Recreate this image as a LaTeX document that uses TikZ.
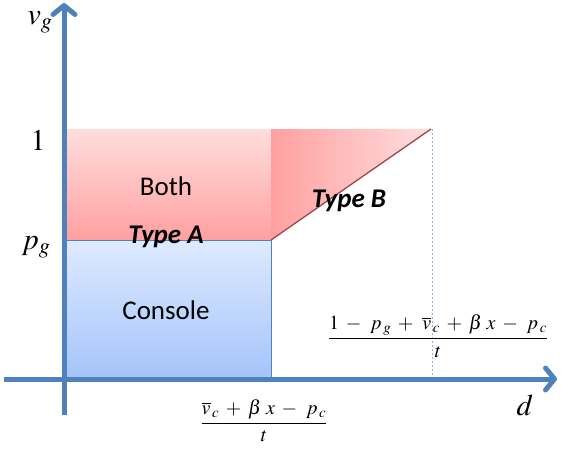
\documentclass[tikz,border=0pt]{standalone}
\usepackage{amsmath}
\usepackage{mathptmx}
\usepackage[no-math]{fontspec}
\setmainfont{Carlito}
\usetikzlibrary{arrows.meta}
\definecolor{axisblue}{RGB}{79,129,189}
\definecolor{redtop}{RGB}{255,222,222}
\definecolor{redbot}{RGB}{255,160,160}
\definecolor{bluetop}{RGB}{222,234,255}
\definecolor{bluebot}{RGB}{165,196,250}
\definecolor{diagred}{RGB}{160,70,70}
\tikzset{
  axisline/.style={draw=axisblue, line width=5pt, -{Straight Barb[length=9pt,width=22pt,round]}},
  regionlabel/.style={font=\fontsize{27}{30}\selectfont, inner sep=0pt},
  typelabel/.style={font=\fontsize{27}{30}\selectfont\bfseries\itshape, inner sep=0pt},
  axislabel/.style={font=\fontsize{30}{32}\selectfont, inner sep=0pt},
  fraclabel/.style={font=\fontsize{20}{22}\selectfont, inner sep=0pt},
  guide/.style={draw=axisblue!60, dash pattern=on 2pt off 2pt, line width=1pt}
}
\begin{document}
\begin{tikzpicture}[x=1pt,y=-1pt]
\useasboundingbox (0,0) rectangle (561,450);
% regions
\shade[top color=redtop, bottom color=redbot] (63,129) rectangle (271,240);
\shade[left color=redbot, right color=redtop] (271,240) -- (431,129) -- (271,129) -- cycle;
\shade[top color=bluetop, bottom color=bluebot, draw=axisblue, line width=0.8pt] (63,240) rectangle (271,378);
\draw[diagred, line width=1.3pt] (271,240) -- (431,129);
% guide
\coordinate (gtop) at (432,129);
\coordinate (gbot) at (432,378);
\draw[guide] (gtop) -- (gbot);
% axes
\coordinate (xs) at (4,379);
\coordinate (xe) at (557,379);
\coordinate (ys) at (64,415);
\coordinate (ye) at (64,3);
\draw[axisline] (xs) -- (xe);
\draw[axisline] (ys) -- (ye);
% labels
\node[regionlabel] (both) at (166,186) {Both};
\node[regionlabel] (console) at (166,310) {Console};
\node[typelabel] (typea) at (166,237) {Type A};
\node[typelabel] (typeb) at (349,201) {Type B};
\node[axislabel] (one) at (38,140) {$1$};
\node[axislabel] (pg) at (36,247) {$p_g$};
\node[axislabel] (vg) at (40,22) {$v_g$};
\node[axislabel] (d) at (525,405) {$d$};
\node[fraclabel] (f1) at (438,336) {$\medmuskip=6mu\dfrac{1-\,p_{\,g}+\,\overline{v}_{\,c}+\beta\;x-\,p_{\,c}}{t}$};
\node[fraclabel] (f2) at (264,421) {$\medmuskip=6mu\dfrac{\overline{v}_{\,c}+\beta\;x-\,p_{\,c}}{t}$};
\end{tikzpicture}
\end{document}
